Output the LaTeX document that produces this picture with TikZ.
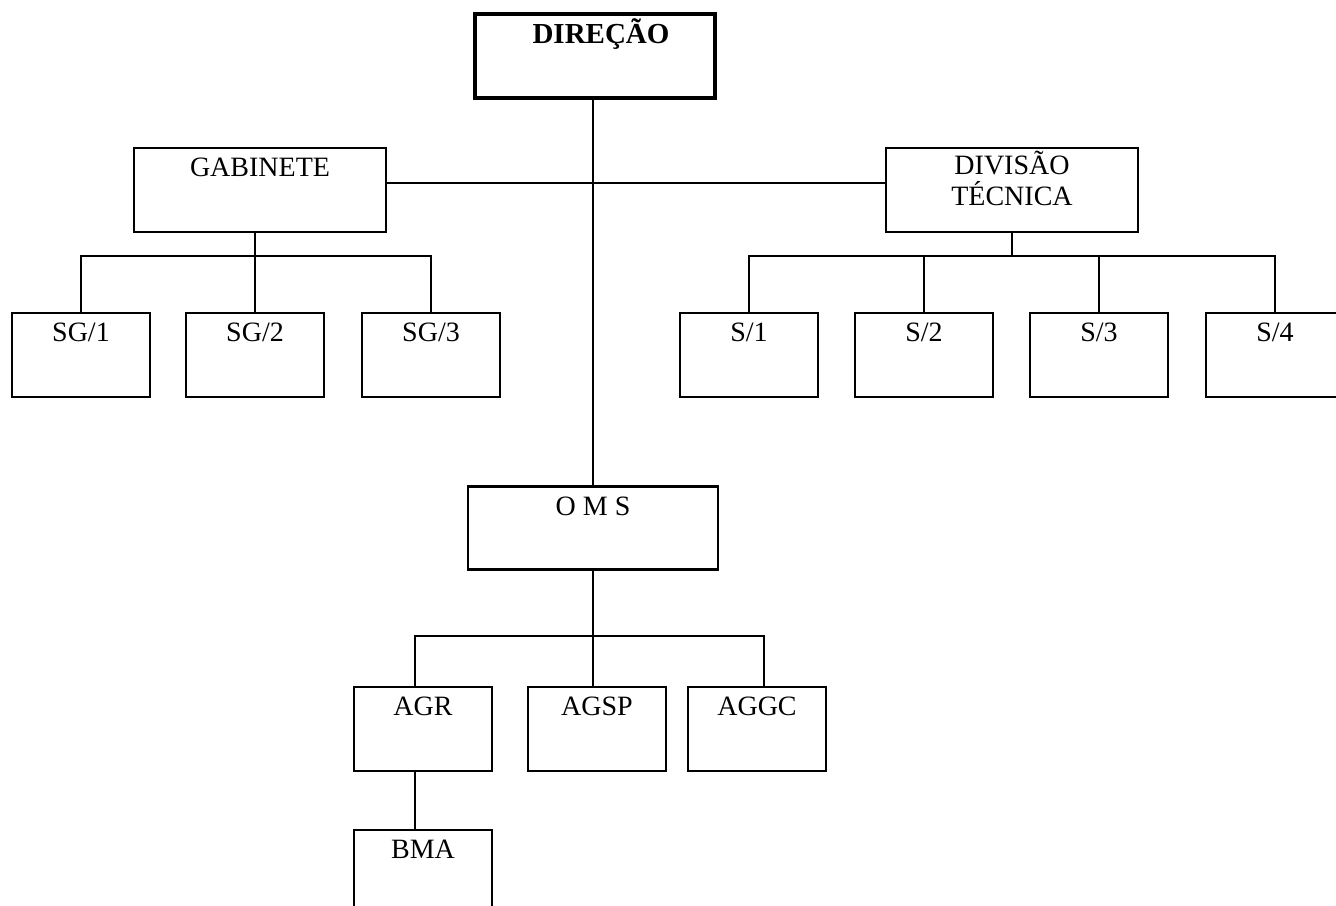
\documentclass[tikz,border=0pt]{standalone}
\usepackage{fontspec}
\setmainfont{Liberation Serif}
\usetikzlibrary{positioning}
\usetikzlibrary{calc}
\tikzset{
u/.style={
  rectangle,
  draw=black,
  line width=1.4pt,
  minimum width=69pt,
  minimum height=42pt,
  inner sep=0pt
  },
t/.style={
  anchor=base,
  yshift=-15pt,
  font=\fontsize{14}{15.5}\selectfont,
  align=center
  }
}

\begin{document}
\begin{tikzpicture}[x=0.5pt,y=-0.5pt,line width=1.2pt]
            \clip (0,0) rectangle (1336,905);
            \node[u,line width=2pt,minimum width=120pt] (dir) at (595,56)
              [label={[t,yshift=-0.5pt,xshift=3pt,font=\fontsize{14.5}{17}\selectfont\bfseries]north:DIREÇÃO}] {};
            \node[u,minimum width=126pt] (gab) at (260,190) [label={[t]north:GABINETE}] {};
            \node[u,minimum width=126pt] (div) at (1012,190) [label={[t,yshift=-14.5pt]north:DIVISÃO\\TÉCNICA}] {};
            \node[u] (sg1) at (81,355) [label={[t]north:SG/1}] {};
            \node[u] (sg2) at (255,355) [label={[t]north:SG/2}] {};
            \node[u] (sg3) at (431,355) [label={[t]north:SG/3}] {};
            \node[u] (s1) at (749,355) [label={[t]north:S/1}] {};
            \node[u] (s2) at (924,355) [label={[t]north:S/2}] {};
            \node[u] (s3) at (1099,355) [label={[t]north:S/3}] {};
            \node[u] (s4) at (1275,355) [label={[t]north:S/4}] {};
            \node[u,minimum width=125pt,minimum height=41.5pt] (oms) at (593,528) [label={[t]north:O M S}] {};
            \node[u] (agr) at (423,729) [label={[t]north:AGR}] {};
            \node[u] (agsp) at (597,729) [label={[t]north:AGSP}] {};
            \node[u] (aggc) at (757,729) [label={[t]north:AGGC}] {};
            \node[u] (bma) at (423,872) [label={[t]north:BMA}] {};
            \coordinate (gb) at (255,256);
            \coordinate (db) at (1012,256);
            \coordinate (ob) at (593,636);
            % links
            \draw ([yshift=3.5pt]gab.east) -- ([yshift=3.5pt]div.west);
            \draw (oms.north -| dir.south) ++(-1pt,0) -- ([xshift=-1pt]dir.south);
            \draw (sg2.north) -- (sg2.north |- gab.south);
            \draw (sg1.north) |- (gb) -| (sg3.north);
            \draw (div.south) -- (db);
            \draw (s1.north) |- (db) -| (s4.north);
            \draw (s2.north) -- (s2.north |- db);
            \draw (s3.north) -- (s3.north |- db);
            \draw (oms.south) -- (ob) -- (ob |- agsp.north);
            \draw ([xshift=-4pt]agr.north) |- (ob) -| ([xshift=3.5pt]aggc.north);
            \draw ([xshift=-4pt]agr.south) -- ([xshift=-4pt]bma.north);
        \end{tikzpicture}
\end{document}
